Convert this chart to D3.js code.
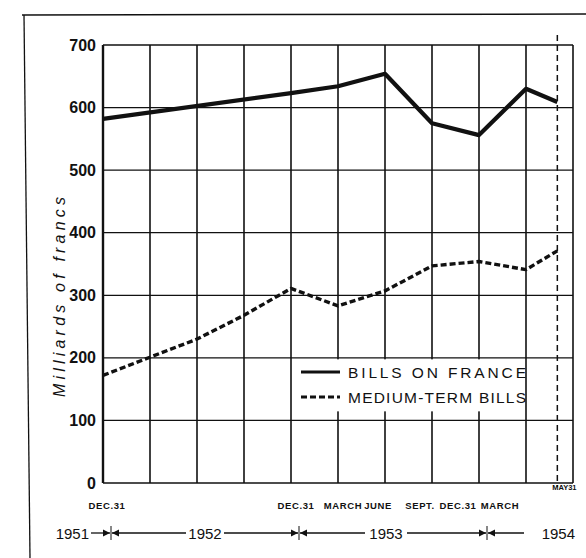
<!DOCTYPE html>
<html>
<head>
<meta charset="utf-8">
<script src="https://cdn.jsdelivr.net/npm/d3@7"></script>
<style>
  html, body { margin: 0; padding: 0; background: #fff; }
  svg { display: block; }
</style>
</head>
<body>
<svg id="chart" width="586" height="558"></svg>
<script>
// ---- Data (months counted from Dec 31, 1951) ----
const billsMonths   = [0, 12, 15, 18, 21, 24, 27, 29];
const billsValues   = [582, 623, 634, 654, 575, 556, 630, 609];
const mediumMonths  = [0, 3, 6, 9, 12, 15, 18, 21, 24, 27, 29];
const mediumValues  = [172, 201, 230, 268, 311, 283, 307, 347, 354, 341, 371];
const yTicks        = [0, 100, 200, 300, 400, 500, 600, 700];
const gridMonths    = [0, 3, 6, 9, 12, 15, 18, 21, 24, 27, 30];
const monthLabels   = ["DEC.31", "DEC.31", "MARCH", "JUNE", "SEPT.", "DEC.31", "MARCH"];
const monthLabelAt  = [0, 12, 15, 18, 21, 24, 27];
const yearLabels    = ["1951", "1952", "1953", "1954"];
const yearBreaks    = [0, 12, 24];
const mayMonth      = 29;
const mayLabel      = "MAY31";
const seriesNames   = ["BILLS ON FRANCE", "MEDIUM-TERM BILLS"];
const yTitle        = "Milliards of francs";

const svg = d3.select("#chart");
const ink = "#111";

const x = d3.scaleLinear().domain([0, 30]).range([103, 573]);
const y = d3.scaleLinear().domain([0, 700]).range([483, 45]);

// outer frame (page border of the scanned figure)
svg.append("line").attr("x1", 22).attr("x2", 586).attr("y1", 15).attr("y2", 14)
  .attr("stroke", ink).attr("stroke-width", 1.5);
svg.append("line").attr("x1", 24).attr("x2", 30).attr("y1", 15).attr("y2", 558)
  .attr("stroke", ink).attr("stroke-width", 1.3);

// horizontal grid
svg.append("g").selectAll("line").data(yTicks).join("line")
  .attr("x1", x(0)).attr("x2", x(30))
  .attr("y1", d => y(d)).attr("y2", d => y(d))
  .attr("stroke", ink).attr("stroke-width", d => (d === 0 || d === 700) ? 1.6 : 1.2);

// vertical grid
svg.append("g").selectAll("line").data(gridMonths).join("line")
  .attr("x1", d => x(d)).attr("x2", d => x(d))
  .attr("y1", y(700)).attr("y2", y(0))
  .attr("stroke", ink).attr("stroke-width", d => d === 0 ? 2.4 : 1.6);

// May 31 dashed marker
svg.append("line")
  .attr("x1", x(mayMonth)).attr("x2", x(mayMonth))
  .attr("y1", y(700) - 10).attr("y2", y(0) + 4)
  .attr("stroke", ink).attr("stroke-width", 1.5).attr("stroke-dasharray", "6,4");

// y axis labels
const yAxis = d3.axisLeft(y).tickValues(yTicks).tickSize(0).tickPadding(7);
const ga = svg.append("g").attr("transform", `translate(${x(0)},0)`).call(yAxis);
ga.select(".domain").remove();
ga.selectAll("text")
  .attr("font-family", "Liberation Sans, Arial, sans-serif")
  .attr("font-weight", "bold").attr("font-size", 16).attr("fill", ink);

// y title
svg.append("text")
  .attr("transform", "translate(65,297) rotate(-90)")
  .attr("text-anchor", "middle")
  .attr("font-family", "Liberation Sans, Arial, sans-serif")
  .attr("font-style", "italic").attr("font-size", 16).attr("fill", ink)
  .attr("textLength", 200).attr("lengthAdjust", "spacing")
  .text(yTitle);

// lines
const line = d3.line().x(d => x(d[0])).y(d => y(d[1]));
const billsData = billsMonths.map((m, i) => [m, billsValues[i]]);
const mediumData = mediumMonths.map((m, i) => [m, mediumValues[i]]);

svg.append("path").datum(mediumData).attr("d", line)
  .attr("fill", "none").attr("stroke", ink).attr("stroke-width", 3.4)
  .attr("stroke-dasharray", "6,3").attr("stroke-linejoin", "round");
svg.append("path").datum(billsData).attr("d", line)
  .attr("fill", "none").attr("stroke", ink).attr("stroke-width", 4.2)
  .attr("stroke-linejoin", "round");

// legend
const lg = svg.append("g");
lg.append("rect").attr("x", x(12) + 4).attr("y", y(200) + 1.5)
  .attr("width", x(27) - x(12) - 5.5).attr("height", 52).attr("fill", "#fff");
const legY = [372, 397];
lg.append("line").attr("x1", 301).attr("x2", 340).attr("y1", legY[0]).attr("y2", legY[0])
  .attr("stroke", ink).attr("stroke-width", 3);
lg.append("line").attr("x1", 301).attr("x2", 340).attr("y1", legY[1]).attr("y2", legY[1])
  .attr("stroke", ink).attr("stroke-width", 3).attr("stroke-dasharray", "6,3");
lg.selectAll("text").data(seriesNames).join("text")
  .attr("x", 348).attr("y", (d, i) => legY[i] + 6)
  .attr("font-family", "Liberation Sans, Arial, sans-serif")
  .attr("font-size", 15.5).attr("fill", ink)
  .attr("textLength", 178).attr("lengthAdjust", "spacing")
  .text(d => d);

// month labels
const monthDx = [4, 5, 5, -7, -12, -21, -26];
svg.append("g").selectAll("text").data(monthLabels).join("text")
  .attr("x", (d, i) => x(monthLabelAt[i]) + monthDx[i])
  .attr("y", 509)
  .attr("text-anchor", "middle")
  .attr("font-family", "Liberation Sans, Arial, sans-serif")
  .attr("font-weight", "bold").attr("font-size", 9.5).attr("fill", ink)
  .attr("letter-spacing", 0.6)
  .text(d => d);

svg.append("text").attr("x", x(mayMonth) + 7).attr("y", 490)
  .attr("text-anchor", "middle")
  .attr("font-family", "Liberation Sans, Arial, sans-serif")
  .attr("font-weight", "bold").attr("font-size", 7.5).attr("fill", ink)
  .text(mayLabel);

// year row
const yy = 533;
const sx = yearBreaks.map(m => x(m) + 8);
const yearG = svg.append("g");
const yearX = [sx[0] - 22, (sx[0] + sx[1]) / 2, (sx[1] + sx[2]) / 2 - 7, x(30) + 2];
const yearAnchor = ["end", "middle", "middle", "end"];
yearG.selectAll("text").data(yearLabels).join("text")
  .attr("x", (d, i) => yearX[i]).attr("y", yy + 6)
  .attr("text-anchor", (d, i) => yearAnchor[i])
  .attr("font-family", "Liberation Sans, Arial, sans-serif")
  .attr("font-size", 15).attr("fill", ink)
  .text(d => d);

// arrows: segments between labels and separators
const segs = [
  [sx[0] - 20, sx[0] - 1, "right"],
  [sx[0] + 1, yearX[1] - 19, "left"],
  [yearX[1] + 19, sx[1] - 1, "right"],
  [sx[1] + 1, yearX[2] - 21, "left"],
  [yearX[2] + 21, sx[2] - 1, "right"],
  [sx[2] + 1, 524, "left"]
];
segs.forEach(([a, b, dir]) => {
  yearG.append("line").attr("x1", a).attr("x2", b).attr("y1", yy).attr("y2", yy)
    .attr("stroke", ink).attr("stroke-width", 1.3);
  const tip = dir === "right" ? b : a;
  const s = dir === "right" ? -1 : 1;
  yearG.append("path")
    .attr("d", `M${tip},${yy} L${tip + s * 7},${yy - 3.5} L${tip + s * 7},${yy + 3.5} Z`)
    .attr("fill", ink);
});
sx.forEach(v => {
  yearG.append("line").attr("x1", v).attr("x2", v).attr("y1", yy - 7).attr("y2", yy + 7)
    .attr("stroke", ink).attr("stroke-width", 1);
});
</script>
</body>
</html>
